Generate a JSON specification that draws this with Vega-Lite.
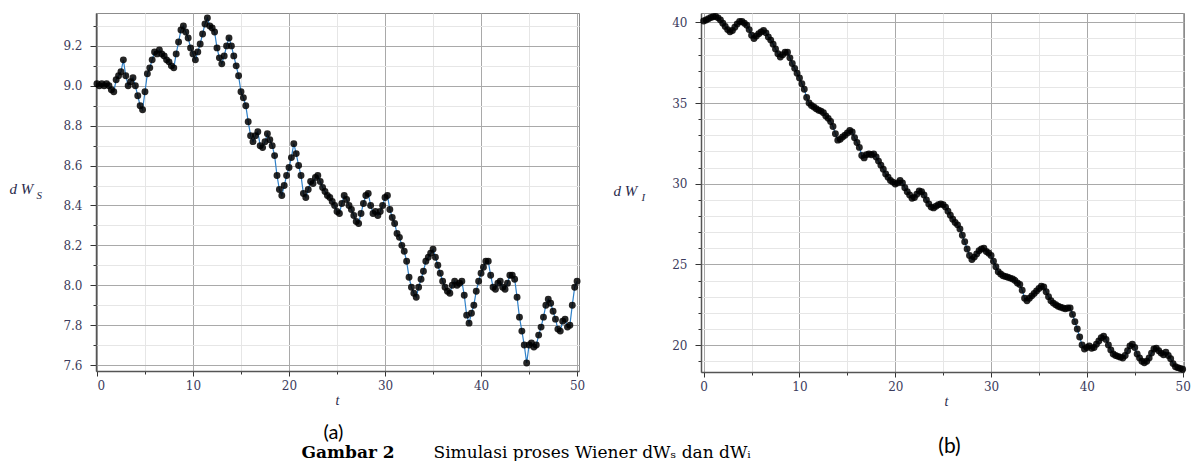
{
  "$schema": "https://vega.github.io/schema/vega-lite/v6.json",
  "background": "white",
  "padding": {"left": 8, "top": 12, "right": 0, "bottom": 0},
  "autosize": {"type": "pad"},
  "config": {
    "view": {"stroke": "#8c8c8c", "strokeWidth": 1},
    "axis": {
      "labelFont": "DejaVu Serif", "labelFontSize": 12, "labelColor": "#3b3b5c",
      "titleFont": "Liberation Serif", "titleFontStyle": "italic", "titleFontWeight": "normal", "titleColor": "#2b2b4b",
      "tickColor": "#333333"
    }
  },
  "spacing": 122,
  "bounds": "flush",
  "hconcat": [
    {
      "width": 483, "height": 358,
      "data": {"name": "a"},
      "layer": [
        {
          "mark": {"type": "line", "color": "#2f80c8", "strokeWidth": 1.2},
          "encoding": {
            "x": {"field": "t", "type": "quantitative", "scale": {"domain": [-0.1, 50.2], "nice": false, "zero": false},
              "axis": {"orient": "bottom", "values": [5, 15, 25, 35, 45], "labels": false, "tickSize": 3, "domain": false, "grid": true, "gridColor": "#e6e6e6",
                "title": "(a)", "titleFont": "Lato", "titleFontStyle": "normal", "titleFontSize": 20, "titleColor": "#000000",
                "titleX": 237, "titleY": 67.5, "titleAlign": "center", "titleBaseline": "alphabetic"}},
            "y": {"field": "v", "type": "quantitative", "scale": {"domain": [7.57, 9.365], "nice": false, "zero": false},
              "axis": {"orient": "left", "values": [7.7, 7.9, 8.1, 8.3, 8.5, 8.7, 8.9, 9.1, 9.3], "labels": false, "tickSize": 3, "domain": false, "grid": true, "gridColor": "#e6e6e6",
                "title": "Gambar 2", "titleFont": "DejaVu Serif", "titleFontStyle": "normal", "titleFontWeight": "bold", "titleFontSize": 17, "titleColor": "#000000",
                "titleAngle": 0, "titleX": 205, "titleY": 444.5, "titleAlign": "left", "titleBaseline": "alphabetic"}}
          }
        },
        {
          "mark": {"type": "point", "filled": true, "color": "#000000", "size": 48, "opacity": 0.85},
          "encoding": {
            "x": {"field": "t", "type": "quantitative",
              "axis": {"orient": "bottom", "values": [0, 10, 20, 30, 40, 50], "tickSize": 5, "labelPadding": 4, "domain": true, "domainColor": "#555555", "domainWidth": 1.5,
                "grid": true, "gridColor": "#a9a9a9", "title": "t", "titleFontSize": 14, "titleX": 241, "titleY": 33, "titleBaseline": "alphabetic"}},
            "y": {"field": "v", "type": "quantitative",
              "axis": {"orient": "left", "values": [7.6, 7.8, 8.0, 8.2, 8.4, 8.6, 8.8, 9.0, 9.2], "format": ".1f", "tickSize": 6, "labelPadding": 8, "domain": true, "domainColor": "#555555", "domainWidth": 1.5,
                "grid": true, "gridColor": "#a9a9a9", "title": "d W", "titleFontSize": 15, "titleAngle": 0, "titleX": -87, "titleY": 180.5, "titleAlign": "left", "titleBaseline": "alphabetic"}}
          }
        },
        {
          "mark": {"type": "point", "opacity": 0},
          "encoding": {
            "x": {"field": "t", "type": "quantitative", "axis": null},
            "y": {"field": "v", "type": "quantitative",
              "axis": {"orient": "left", "labels": false, "ticks": false, "domain": false, "grid": false,
                "title": "S", "titleFontSize": 11, "titleAngle": 0, "titleX": -60, "titleY": 185.5, "titleAlign": "left", "titleBaseline": "alphabetic"}}
          }
        }
      ],
      "resolve": {"axis": {"x": "independent", "y": "independent"}}
    },
    {
      "width": 483, "height": 359,
      "data": {"name": "b"},
      "layer": [
        {
          "mark": {"type": "line", "color": "#2f80c8", "strokeWidth": 1.2},
          "encoding": {
            "x": {"field": "t", "type": "quantitative", "scale": {"domain": [-0.28, 50.14], "nice": false, "zero": false},
              "axis": {"orient": "bottom", "values": [5, 15, 25, 35, 45], "labels": false, "tickSize": 3, "domain": false, "grid": true, "gridColor": "#e6e6e6",
                "title": "(b)", "titleFont": "Lato", "titleFontStyle": "normal", "titleFontSize": 21, "titleColor": "#000000",
                "titleX": 248, "titleY": 80.5, "titleAlign": "center", "titleBaseline": "alphabetic"}},
            "y": {"field": "v", "type": "quantitative", "scale": {"domain": [18.33, 40.58], "nice": false, "zero": false},
              "axis": {"orient": "left", "values": [19, 21, 22, 23, 24, 26, 27, 28, 29, 31, 32, 33, 34, 36, 37, 38, 39], "labels": false, "tickSize": 3, "domain": false, "grid": true, "gridColor": "#e6e6e6",
                "title": "Simulasi proses Wiener dWₛ dan dWᵢ", "titleFont": "DejaVu Serif", "titleFontStyle": "normal", "titleFontWeight": "normal", "titleFontSize": 17, "titleColor": "#000000",
                "titleAngle": 0, "titleX": -268, "titleY": 444.5, "titleAlign": "left", "titleBaseline": "alphabetic"}}
          }
        },
        {
          "mark": {"type": "point", "filled": true, "color": "#000000", "size": 48, "opacity": 0.85},
          "encoding": {
            "x": {"field": "t", "type": "quantitative",
              "axis": {"orient": "bottom", "values": [0, 10, 20, 30, 40, 50], "tickSize": 5, "labelPadding": 4, "domain": true, "domainColor": "#555555", "domainWidth": 1.5,
                "grid": true, "gridColor": "#a9a9a9", "title": "t", "titleFontSize": 14, "titleX": 245, "titleY": 33, "titleBaseline": "alphabetic"}},
            "y": {"field": "v", "type": "quantitative",
              "axis": {"orient": "left", "values": [20, 25, 30, 35, 40], "tickSize": 6, "labelPadding": 8, "domain": true, "domainColor": "#555555", "domainWidth": 1.5,
                "grid": true, "gridColor": "#a9a9a9", "title": "d W", "titleFontSize": 15, "titleAngle": 0, "titleX": -88, "titleY": 182.5, "titleAlign": "left", "titleBaseline": "alphabetic"}}
          }
        },
        {
          "mark": {"type": "point", "opacity": 0},
          "encoding": {
            "x": {"field": "t", "type": "quantitative", "axis": null},
            "y": {"field": "v", "type": "quantitative",
              "axis": {"orient": "left", "labels": false, "ticks": false, "domain": false, "grid": false,
                "title": "I", "titleFontSize": 11, "titleAngle": 0, "titleX": -60, "titleY": 187.5, "titleAlign": "left", "titleBaseline": "alphabetic"}}
          }
        }
      ],
      "resolve": {"axis": {"x": "independent", "y": "independent"}}
    }
  ],
  "datasets": {
    "a": [
      {"t":0,"v":9.01},{"t":0.25,"v":9.0},{"t":0.5,"v":9.01},{"t":0.75,"v":9.0},{"t":1,"v":9.01},{"t":1.25,"v":9.0},{"t":1.5,"v":8.98},{"t":1.75,"v":8.97},
      {"t":2,"v":9.03},{"t":2.25,"v":9.05},{"t":2.5,"v":9.07},{"t":2.75,"v":9.13},{"t":3,"v":9.05},{"t":3.25,"v":9.0},{"t":3.5,"v":9.02},{"t":3.75,"v":9.04},
      {"t":4,"v":9.0},{"t":4.25,"v":8.95},{"t":4.5,"v":8.9},{"t":4.75,"v":8.88},{"t":5,"v":8.97},{"t":5.25,"v":9.06},{"t":5.5,"v":9.09},{"t":5.75,"v":9.13},
      {"t":6,"v":9.17},{"t":6.25,"v":9.16},{"t":6.5,"v":9.18},{"t":6.75,"v":9.16},{"t":7,"v":9.15},{"t":7.25,"v":9.13},{"t":7.5,"v":9.12},{"t":7.75,"v":9.1},
      {"t":8,"v":9.09},{"t":8.25,"v":9.16},{"t":8.5,"v":9.22},{"t":8.75,"v":9.28},{"t":9,"v":9.3},{"t":9.25,"v":9.27},{"t":9.5,"v":9.24},{"t":9.75,"v":9.19},
      {"t":10,"v":9.16},{"t":10.25,"v":9.13},{"t":10.5,"v":9.17},{"t":10.75,"v":9.21},{"t":11,"v":9.26},{"t":11.25,"v":9.31},{"t":11.5,"v":9.34},{"t":11.75,"v":9.3},
      {"t":12,"v":9.29},{"t":12.25,"v":9.27},{"t":12.5,"v":9.19},{"t":12.75,"v":9.14},{"t":13,"v":9.11},{"t":13.25,"v":9.15},{"t":13.5,"v":9.2},{"t":13.75,"v":9.24},
      {"t":14,"v":9.2},{"t":14.25,"v":9.15},{"t":14.5,"v":9.1},{"t":14.75,"v":9.05},{"t":15,"v":8.97},{"t":15.25,"v":8.94},{"t":15.5,"v":8.9},{"t":15.75,"v":8.82},
      {"t":16,"v":8.75},{"t":16.25,"v":8.72},{"t":16.5,"v":8.75},{"t":16.75,"v":8.77},{"t":17,"v":8.7},{"t":17.25,"v":8.69},{"t":17.5,"v":8.72},{"t":17.75,"v":8.76},
      {"t":18,"v":8.73},{"t":18.25,"v":8.7},{"t":18.5,"v":8.65},{"t":18.75,"v":8.55},{"t":19,"v":8.48},{"t":19.25,"v":8.45},{"t":19.5,"v":8.5},{"t":19.75,"v":8.55},
      {"t":20,"v":8.59},{"t":20.25,"v":8.64},{"t":20.5,"v":8.71},{"t":20.75,"v":8.66},{"t":21,"v":8.6},{"t":21.25,"v":8.55},{"t":21.5,"v":8.46},{"t":21.75,"v":8.44},
      {"t":22,"v":8.48},{"t":22.25,"v":8.52},{"t":22.5,"v":8.51},{"t":22.75,"v":8.54},{"t":23,"v":8.55},{"t":23.25,"v":8.52},{"t":23.5,"v":8.49},{"t":23.75,"v":8.47},
      {"t":24,"v":8.45},{"t":24.25,"v":8.44},{"t":24.5,"v":8.42},{"t":24.75,"v":8.4},{"t":25,"v":8.37},{"t":25.25,"v":8.36},{"t":25.5,"v":8.41},{"t":25.75,"v":8.45},
      {"t":26,"v":8.43},{"t":26.25,"v":8.4},{"t":26.5,"v":8.38},{"t":26.75,"v":8.35},{"t":27,"v":8.32},{"t":27.25,"v":8.31},{"t":27.5,"v":8.36},{"t":27.75,"v":8.41},
      {"t":28,"v":8.45},{"t":28.25,"v":8.46},{"t":28.5,"v":8.4},{"t":28.75,"v":8.36},{"t":29,"v":8.37},{"t":29.25,"v":8.35},{"t":29.5,"v":8.37},{"t":29.75,"v":8.4},
      {"t":30,"v":8.44},{"t":30.25,"v":8.45},{"t":30.5,"v":8.38},{"t":30.75,"v":8.34},{"t":31,"v":8.31},{"t":31.25,"v":8.26},{"t":31.5,"v":8.24},{"t":31.75,"v":8.2},
      {"t":32,"v":8.17},{"t":32.25,"v":8.12},{"t":32.5,"v":8.04},{"t":32.75,"v":7.99},{"t":33,"v":7.96},{"t":33.25,"v":7.94},{"t":33.5,"v":7.99},{"t":33.75,"v":8.03},
      {"t":34,"v":8.07},{"t":34.25,"v":8.12},{"t":34.5,"v":8.14},{"t":34.75,"v":8.16},{"t":35,"v":8.18},{"t":35.25,"v":8.14},{"t":35.5,"v":8.1},{"t":35.75,"v":8.06},
      {"t":36,"v":8.02},{"t":36.25,"v":7.99},{"t":36.5,"v":7.97},{"t":36.75,"v":7.96},{"t":37,"v":8.0},{"t":37.25,"v":8.02},{"t":37.5,"v":8.0},{"t":37.75,"v":8.01},
      {"t":38,"v":8.02},{"t":38.25,"v":7.95},{"t":38.5,"v":7.85},{"t":38.75,"v":7.81},{"t":39,"v":7.86},{"t":39.25,"v":7.9},{"t":39.5,"v":7.97},{"t":39.75,"v":8.02},
      {"t":40,"v":8.06},{"t":40.25,"v":8.09},{"t":40.5,"v":8.12},{"t":40.75,"v":8.12},{"t":41,"v":8.05},{"t":41.25,"v":7.99},{"t":41.5,"v":7.98},{"t":41.75,"v":8.01},
      {"t":42,"v":8.02},{"t":42.25,"v":7.99},{"t":42.5,"v":7.98},{"t":42.75,"v":8.01},{"t":43,"v":8.05},{"t":43.25,"v":8.05},{"t":43.5,"v":8.03},{"t":43.75,"v":7.94},
      {"t":44,"v":7.84},{"t":44.25,"v":7.77},{"t":44.5,"v":7.7},{"t":44.75,"v":7.61},{"t":45,"v":7.7},{"t":45.25,"v":7.71},{"t":45.5,"v":7.69},{"t":45.75,"v":7.7},
      {"t":46,"v":7.75},{"t":46.25,"v":7.79},{"t":46.5,"v":7.84},{"t":46.75,"v":7.9},{"t":47,"v":7.93},{"t":47.25,"v":7.91},{"t":47.5,"v":7.87},{"t":47.75,"v":7.83},
      {"t":48,"v":7.78},{"t":48.25,"v":7.77},{"t":48.5,"v":7.82},{"t":48.75,"v":7.83},{"t":49,"v":7.79},{"t":49.25,"v":7.8},{"t":49.5,"v":7.9},{"t":49.75,"v":7.99},
      {"t":50,"v":8.02}
    ],
    "b": [
      {"t":0,"v":40.08},{"t":0.25,"v":40.15},{"t":0.5,"v":40.22},{"t":0.75,"v":40.3},{"t":1,"v":40.35},{"t":1.25,"v":40.37},{"t":1.5,"v":40.28},{"t":1.75,"v":40.15},
      {"t":2,"v":39.95},{"t":2.25,"v":39.75},{"t":2.5,"v":39.55},{"t":2.75,"v":39.42},{"t":3,"v":39.5},{"t":3.25,"v":39.7},{"t":3.5,"v":39.9},{"t":3.75,"v":40.05},
      {"t":4,"v":40.05},{"t":4.25,"v":39.95},{"t":4.5,"v":39.82},{"t":4.75,"v":39.55},{"t":5,"v":39.2},{"t":5.25,"v":39.0},{"t":5.5,"v":39.15},{"t":5.75,"v":39.3},
      {"t":6,"v":39.4},{"t":6.25,"v":39.5},{"t":6.5,"v":39.35},{"t":6.75,"v":39.1},{"t":7,"v":38.9},{"t":7.25,"v":38.65},{"t":7.5,"v":38.35},{"t":7.75,"v":38.05},
      {"t":8,"v":37.85},{"t":8.25,"v":38.0},{"t":8.5,"v":38.15},{"t":8.75,"v":38.15},{"t":9,"v":37.8},{"t":9.25,"v":37.45},{"t":9.5,"v":37.15},{"t":9.75,"v":36.85},
      {"t":10,"v":36.55},{"t":10.25,"v":36.2},{"t":10.5,"v":35.85},{"t":10.75,"v":35.35},{"t":11,"v":35.0},{"t":11.25,"v":34.85},{"t":11.5,"v":34.75},{"t":11.75,"v":34.65},
      {"t":12,"v":34.55},{"t":12.25,"v":34.5},{"t":12.5,"v":34.4},{"t":12.75,"v":34.2},{"t":13,"v":34.05},{"t":13.25,"v":33.85},{"t":13.5,"v":33.55},{"t":13.75,"v":33.1},
      {"t":14,"v":32.7},{"t":14.25,"v":32.75},{"t":14.5,"v":32.9},{"t":14.75,"v":33.0},{"t":15,"v":33.15},{"t":15.25,"v":33.3},{"t":15.5,"v":33.2},{"t":15.75,"v":32.85},
      {"t":16,"v":32.55},{"t":16.25,"v":32.25},{"t":16.5,"v":31.75},{"t":16.75,"v":31.6},{"t":17,"v":31.8},{"t":17.25,"v":31.85},{"t":17.5,"v":31.8},{"t":17.75,"v":31.85},
      {"t":18,"v":31.65},{"t":18.25,"v":31.4},{"t":18.5,"v":31.15},{"t":18.75,"v":30.9},{"t":19,"v":30.6},{"t":19.25,"v":30.4},{"t":19.5,"v":30.2},{"t":19.75,"v":30.1},
      {"t":20,"v":29.98},{"t":20.25,"v":30.05},{"t":20.5,"v":30.2},{"t":20.75,"v":30.05},{"t":21,"v":29.75},{"t":21.25,"v":29.5},{"t":21.5,"v":29.3},{"t":21.75,"v":29.1},
      {"t":22,"v":29.15},{"t":22.25,"v":29.35},{"t":22.5,"v":29.55},{"t":22.75,"v":29.5},{"t":23,"v":29.3},{"t":23.25,"v":29.0},{"t":23.5,"v":28.75},{"t":23.75,"v":28.55},
      {"t":24,"v":28.5},{"t":24.25,"v":28.6},{"t":24.5,"v":28.7},{"t":24.75,"v":28.75},{"t":25,"v":28.7},{"t":25.25,"v":28.55},{"t":25.5,"v":28.3},{"t":25.75,"v":28.05},
      {"t":26,"v":27.8},{"t":26.25,"v":27.6},{"t":26.5,"v":27.45},{"t":26.75,"v":27.2},{"t":27,"v":26.8},{"t":27.25,"v":26.4},{"t":27.5,"v":25.95},{"t":27.75,"v":25.55},
      {"t":28,"v":25.3},{"t":28.25,"v":25.45},{"t":28.5,"v":25.65},{"t":28.75,"v":25.85},{"t":29,"v":25.95},{"t":29.25,"v":26.0},{"t":29.5,"v":25.8},{"t":29.75,"v":25.7},
      {"t":30,"v":25.55},{"t":30.25,"v":25.2},{"t":30.5,"v":24.85},{"t":30.75,"v":24.55},{"t":31,"v":24.4},{"t":31.25,"v":24.3},{"t":31.5,"v":24.25},{"t":31.75,"v":24.2},
      {"t":32,"v":24.15},{"t":32.25,"v":24.1},{"t":32.5,"v":24.0},{"t":32.75,"v":23.85},{"t":33,"v":23.75},{"t":33.25,"v":23.4},{"t":33.5,"v":22.9},{"t":33.75,"v":22.75},
      {"t":34,"v":22.9},{"t":34.25,"v":23.05},{"t":34.5,"v":23.2},{"t":34.75,"v":23.35},{"t":35,"v":23.5},{"t":35.25,"v":23.65},{"t":35.5,"v":23.6},{"t":35.75,"v":23.3},
      {"t":36,"v":23.0},{"t":36.25,"v":22.75},{"t":36.5,"v":22.6},{"t":36.75,"v":22.5},{"t":37,"v":22.4},{"t":37.25,"v":22.35},{"t":37.5,"v":22.3},{"t":37.75,"v":22.25},
      {"t":38,"v":22.3},{"t":38.25,"v":22.3},{"t":38.5,"v":21.9},{"t":38.75,"v":21.45},{"t":39,"v":21.0},{"t":39.25,"v":20.5},{"t":39.5,"v":20.0},{"t":39.75,"v":19.75},
      {"t":40,"v":19.85},{"t":40.25,"v":19.95},{"t":40.5,"v":19.8},{"t":40.75,"v":19.85},{"t":41,"v":20.05},{"t":41.25,"v":20.25},{"t":41.5,"v":20.45},{"t":41.75,"v":20.55},
      {"t":42,"v":20.35},{"t":42.25,"v":20.0},{"t":42.5,"v":19.7},{"t":42.75,"v":19.45},{"t":43,"v":19.35},{"t":43.25,"v":19.3},{"t":43.5,"v":19.25},{"t":43.75,"v":19.2},
      {"t":44,"v":19.35},{"t":44.25,"v":19.65},{"t":44.5,"v":19.95},{"t":44.75,"v":20.05},{"t":45,"v":19.85},{"t":45.25,"v":19.45},{"t":45.5,"v":19.2},{"t":45.75,"v":19.0},
      {"t":46,"v":18.9},{"t":46.25,"v":19.0},{"t":46.5,"v":19.2},{"t":46.75,"v":19.5},{"t":47,"v":19.75},{"t":47.25,"v":19.8},{"t":47.5,"v":19.65},{"t":47.75,"v":19.5},
      {"t":48,"v":19.4},{"t":48.25,"v":19.55},{"t":48.5,"v":19.35},{"t":48.75,"v":19.15},{"t":49,"v":18.85},{"t":49.25,"v":18.65},{"t":49.5,"v":18.6},{"t":49.75,"v":18.55},
      {"t":50,"v":18.5}
    ]
  }
}
